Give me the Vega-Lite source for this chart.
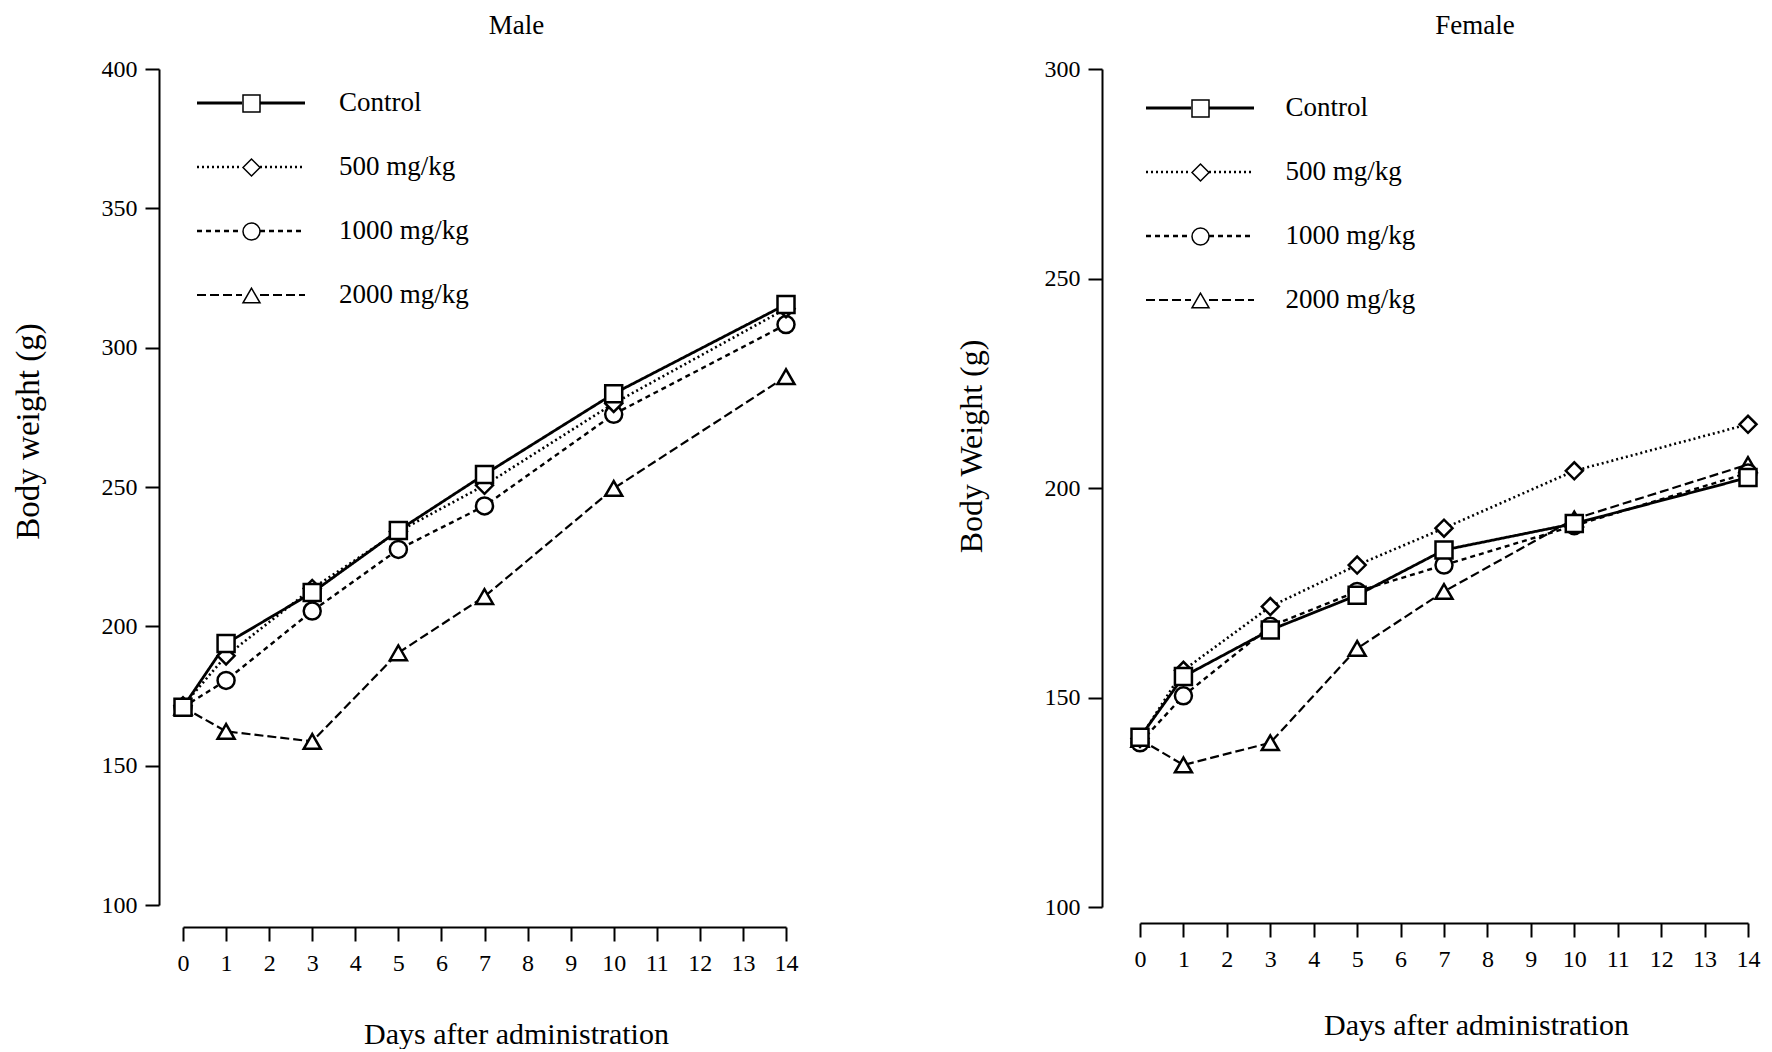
{
  "$schema": "https://vega.github.io/schema/vega-lite/v6.json",
  "background": "white",
  "padding": {"left": 12, "top": 11, "right": 0, "bottom": 0},
  "spacing": 155,
  "align": "none",
  "config": {
    "font": "Liberation Serif",
    "view": {"stroke": null},
    "axis": {
      "grid": false, "domainColor": "black", "domainWidth": 2, "tickColor": "black", "tickWidth": 2, "tickSize": 14,
      "labelColor": "black", "labelFont": "Liberation Serif", "labelFontSize": 24, "labelFlush": false, "labelOverlap": false,
      "titleFont": "Liberation Serif", "titleFontWeight": "normal", "titleColor": "black"
    },
    "title": {"font": "Liberation Serif", "fontSize": 27, "fontWeight": "normal", "color": "black"}
  },
  "datasets": {
    "bw": [
      {"sex": "Male", "group": "2000 mg/kg", "day": 0, "weight": 171},
      {"sex": "Male", "group": "2000 mg/kg", "day": 1, "weight": 162.3},
      {"sex": "Male", "group": "2000 mg/kg", "day": 3, "weight": 158.7},
      {"sex": "Male", "group": "2000 mg/kg", "day": 5, "weight": 190.5},
      {"sex": "Male", "group": "2000 mg/kg", "day": 7, "weight": 210.7},
      {"sex": "Male", "group": "2000 mg/kg", "day": 10, "weight": 249.5},
      {"sex": "Male", "group": "2000 mg/kg", "day": 14, "weight": 289.6},
      {"sex": "Male", "group": "1000 mg/kg", "day": 0, "weight": 171},
      {"sex": "Male", "group": "1000 mg/kg", "day": 1, "weight": 180.6},
      {"sex": "Male", "group": "1000 mg/kg", "day": 3, "weight": 205.5},
      {"sex": "Male", "group": "1000 mg/kg", "day": 5, "weight": 227.6},
      {"sex": "Male", "group": "1000 mg/kg", "day": 7, "weight": 243.2},
      {"sex": "Male", "group": "1000 mg/kg", "day": 10, "weight": 276.1},
      {"sex": "Male", "group": "1000 mg/kg", "day": 14, "weight": 308.3},
      {"sex": "Male", "group": "500 mg/kg", "day": 0, "weight": 171.5},
      {"sex": "Male", "group": "500 mg/kg", "day": 1, "weight": 189.4},
      {"sex": "Male", "group": "500 mg/kg", "day": 3, "weight": 213.6},
      {"sex": "Male", "group": "500 mg/kg", "day": 5, "weight": 234},
      {"sex": "Male", "group": "500 mg/kg", "day": 7, "weight": 250.6},
      {"sex": "Male", "group": "500 mg/kg", "day": 10, "weight": 280},
      {"sex": "Male", "group": "500 mg/kg", "day": 14, "weight": 314},
      {"sex": "Male", "group": "Control", "day": 0, "weight": 171},
      {"sex": "Male", "group": "Control", "day": 1, "weight": 193.8},
      {"sex": "Male", "group": "Control", "day": 3, "weight": 212.1},
      {"sex": "Male", "group": "Control", "day": 5, "weight": 234.4},
      {"sex": "Male", "group": "Control", "day": 7, "weight": 254.5},
      {"sex": "Male", "group": "Control", "day": 10, "weight": 283.5},
      {"sex": "Male", "group": "Control", "day": 14, "weight": 315.5},
      {"sex": "Female", "group": "2000 mg/kg", "day": 0, "weight": 140},
      {"sex": "Female", "group": "2000 mg/kg", "day": 1, "weight": 133.9},
      {"sex": "Female", "group": "2000 mg/kg", "day": 3, "weight": 139.2},
      {"sex": "Female", "group": "2000 mg/kg", "day": 5, "weight": 161.7},
      {"sex": "Female", "group": "2000 mg/kg", "day": 7, "weight": 175.3},
      {"sex": "Female", "group": "2000 mg/kg", "day": 10, "weight": 192.6},
      {"sex": "Female", "group": "2000 mg/kg", "day": 14, "weight": 205.6},
      {"sex": "Female", "group": "1000 mg/kg", "day": 0, "weight": 139.2},
      {"sex": "Female", "group": "1000 mg/kg", "day": 1, "weight": 150.4},
      {"sex": "Female", "group": "1000 mg/kg", "day": 3, "weight": 167},
      {"sex": "Female", "group": "1000 mg/kg", "day": 5, "weight": 175.3},
      {"sex": "Female", "group": "1000 mg/kg", "day": 7, "weight": 181.6},
      {"sex": "Female", "group": "1000 mg/kg", "day": 10, "weight": 191},
      {"sex": "Female", "group": "1000 mg/kg", "day": 14, "weight": 203.6},
      {"sex": "Female", "group": "500 mg/kg", "day": 0, "weight": 140.2},
      {"sex": "Female", "group": "500 mg/kg", "day": 1, "weight": 156.5},
      {"sex": "Female", "group": "500 mg/kg", "day": 3, "weight": 171.7},
      {"sex": "Female", "group": "500 mg/kg", "day": 5, "weight": 181.6},
      {"sex": "Female", "group": "500 mg/kg", "day": 7, "weight": 190.4},
      {"sex": "Female", "group": "500 mg/kg", "day": 10, "weight": 204.1},
      {"sex": "Female", "group": "500 mg/kg", "day": 14, "weight": 215.2},
      {"sex": "Female", "group": "Control", "day": 0, "weight": 140.5},
      {"sex": "Female", "group": "Control", "day": 1, "weight": 155},
      {"sex": "Female", "group": "Control", "day": 3, "weight": 166.1},
      {"sex": "Female", "group": "Control", "day": 5, "weight": 174.4},
      {"sex": "Female", "group": "Control", "day": 7, "weight": 185.2},
      {"sex": "Female", "group": "Control", "day": 10, "weight": 191.5},
      {"sex": "Female", "group": "Control", "day": 14, "weight": 202.5}
    ]
  },
  "resolve": {
    "scale": {"x": "independent", "y": "independent", "strokeDash": "independent", "shape": "independent", "strokeWidth": "independent"},
    "legend": {"strokeDash": "independent", "shape": "independent"}
  },
  "hconcat": [
    {
      "width": 603,
      "height": 836,
      "title": {"text": "Male", "anchor": "middle", "frame": "group", "dx": 32, "dy": -4.5, "offset": -8.5, "baseline": "alphabetic"},
      "data": {"name": "bw"},
      "transform": [{"filter": "datum.sex === 'Male'"}],
      "encoding": {
        "x": {
          "field": "day", "type": "quantitative",
          "scale": {"domain": [0, 14], "nice": false, "zero": false},
          "axis": {"values": [0,1,2,3,4,5,6,7,8,9,10,11,12,13,14], "offset": 22, "labelPadding": 10,
                   "title": "Days after administration", "titleFontSize": 30, "titleX": 333, "titleY": 107,
                   "titleBaseline": "middle", "titleAlign": "center"}
        },
        "y": {
          "field": "weight", "type": "quantitative",
          "scale": {"domain": [100, 400], "nice": false, "zero": false},
          "axis": {"values": [100,150,200,250,300,350,400], "offset": 24, "labelPadding": 8,
                   "title": "Body weight  (g)", "titleFontSize": 33, "titleX": -131, "titleY": 362,
                   "titleAngle": 270, "titleBaseline": "middle", "titleAlign": "center"}
        }
      },
      "layer": [
        {
          "mark": {"type": "line", "color": "black"},
          "encoding": {
            "strokeDash": {
              "field": "group", "type": "nominal",
              "scale": {"domain": ["Control", "500 mg/kg", "1000 mg/kg", "2000 mg/kg"], "range": [[1, 0], [2, 3], [5, 4], [9, 4]]},
              "legend": {"orient": "none", "legendX": 54.5, "legendY": 20.5, "title": null, "padding": 0,
                         "symbolType": "M-6,0H-1M1,0H6", "symbolSize": 324, "symbolStrokeWidth": 2, "symbolStrokeColor": "black",
                         "labelFont": "Liberation Serif", "labelFontSize": 27, "labelColor": "black", "labelOffset": 74.5,
                         "labelLimit": 0, "rowPadding": 36,
                         "encode": {"symbols": {"update": {"strokeWidth": {"signal": "datum.value === 'Control' ? 2.8 : 2.2"}}}}}
            },
            "strokeWidth": {
              "field": "group", "type": "nominal",
              "scale": {"domain": ["Control", "500 mg/kg", "1000 mg/kg", "2000 mg/kg"], "range": [2.8, 2.2, 2.2, 2.2]},
              "legend": null
            }
          }
        },
        {
          "mark": {"type": "point", "filled": true, "fill": "white", "stroke": "black", "strokeWidth": 2.5, "size": 289, "opacity": 1},
          "encoding": {
            "shape": {
              "field": "group", "type": "nominal",
              "scale": {"domain": ["Control", "500 mg/kg", "1000 mg/kg", "2000 mg/kg"], "range": ["square", "diamond", "circle", "triangle-up"]},
              "legend": {"orient": "top-left", "offset": 20.5, "symbolOffset": 34, "title": null, "padding": 0,
                         "symbolSize": 289, "labelFont": "Liberation Serif", "labelFontSize": 27, "labelOpacity": 0,
                         "labelOffset": 74.5, "labelLimit": 0, "rowPadding": 36,
                         "encode": {"symbols": {"update": {"fill": {"value": "white"}, "stroke": {"value": "black"}, "strokeWidth": {"value": 2.5}, "opacity": {"value": 1}}}}}
            }
          }
        }
      ]
    },
    {
      "width": 608,
      "height": 838,
      "title": {"text": "Female", "anchor": "middle", "frame": "group", "dx": 31, "offset": -3.5, "baseline": "alphabetic"},
      "data": {"name": "bw"},
      "transform": [{"filter": "datum.sex === 'Female'"}],
      "encoding": {
        "x": {
          "field": "day", "type": "quantitative",
          "scale": {"domain": [0, 14], "nice": false, "zero": false},
          "axis": {"values": [0,1,2,3,4,5,6,7,8,9,10,11,12,13,14], "offset": 16, "labelPadding": 10,
                   "title": "Days after administration", "titleFontSize": 30, "titleX": 336, "titleY": 102,
                   "titleBaseline": "middle", "titleAlign": "center"}
        },
        "y": {
          "field": "weight", "type": "quantitative",
          "scale": {"domain": [100, 300], "nice": false, "zero": false},
          "axis": {"values": [100,150,200,250,300], "offset": 38, "labelPadding": 8,
                   "title": "Body Weight (g)", "titleFontSize": 32, "titleX": -131, "titleY": 377,
                   "titleAngle": 270, "titleBaseline": "middle", "titleAlign": "center"}
        }
      },
      "layer": [
        {
          "mark": {"type": "line", "color": "black"},
          "encoding": {
            "strokeDash": {
              "field": "group", "type": "nominal",
              "scale": {"domain": ["Control", "500 mg/kg", "1000 mg/kg", "2000 mg/kg"], "range": [[1, 0], [2, 3], [5, 4], [9, 4]]},
              "legend": {"orient": "none", "legendX": 46.5, "legendY": 25.5, "title": null, "padding": 0,
                         "symbolType": "M-6,0H-1M1,0H6", "symbolSize": 324, "symbolStrokeWidth": 2, "symbolStrokeColor": "black",
                         "labelFont": "Liberation Serif", "labelFontSize": 27, "labelColor": "black", "labelOffset": 72,
                         "labelLimit": 0, "rowPadding": 36,
                         "encode": {"symbols": {"update": {"strokeWidth": {"signal": "datum.value === 'Control' ? 2.8 : 2.2"}}}}}
            },
            "strokeWidth": {
              "field": "group", "type": "nominal",
              "scale": {"domain": ["Control", "500 mg/kg", "1000 mg/kg", "2000 mg/kg"], "range": [2.8, 2.2, 2.2, 2.2]},
              "legend": null
            }
          }
        },
        {
          "mark": {"type": "point", "filled": true, "fill": "white", "stroke": "black", "strokeWidth": 2.5, "size": 289, "opacity": 1},
          "encoding": {
            "shape": {
              "field": "group", "type": "nominal",
              "scale": {"domain": ["Control", "500 mg/kg", "1000 mg/kg", "2000 mg/kg"], "range": ["square", "diamond", "circle", "triangle-up"]},
              "legend": {"orient": "top-left", "offset": 25.5, "symbolOffset": 21, "title": null, "padding": 0,
                         "symbolSize": 289, "labelFont": "Liberation Serif", "labelFontSize": 27, "labelOpacity": 0,
                         "labelOffset": 72, "labelLimit": 0, "rowPadding": 36,
                         "encode": {"symbols": {"update": {"fill": {"value": "white"}, "stroke": {"value": "black"}, "strokeWidth": {"value": 2.5}, "opacity": {"value": 1}}}}}
            }
          }
        }
      ]
    }
  ]
}
